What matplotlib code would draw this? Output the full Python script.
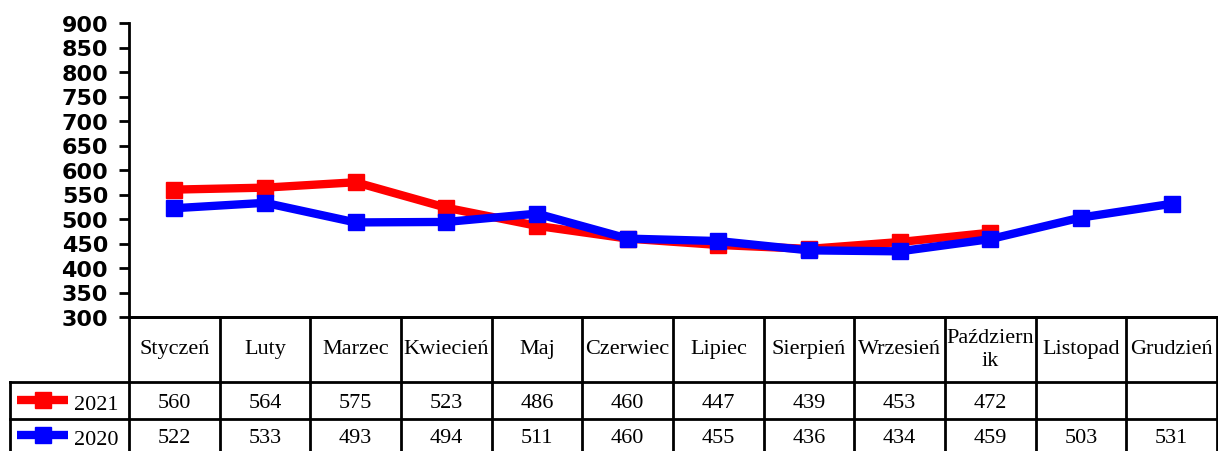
import numpy as np
import matplotlib.pyplot as plt

# Data
months = ['Styczeń', 'Luty', 'Marzec', 'Kwiecień', 'Maj', 'Czerwiec', 'Lipiec',
          'Sierpień', 'Wrzesień', 'Październ\nik', 'Listopad', 'Grudzień']
y2021 = [560, 564, 575, 523, 486, 460, 447, 439, 453, 472, None, None]
y2020 = [522, 533, 493, 494, 511, 460, 455, 436, 434, 459, 503, 531]
series = [('2021', y2021, '#ff0000'), ('2020', y2020, '#0000ff')]

W, H = 1218, 452
fig = plt.figure(figsize=(W / 100, H / 100), dpi=100)

# pixel layout
left, right, top, bottom = 129, 1217, 24, 318
ax = fig.add_axes([left / W, 1 - bottom / H, (right - left) / W, (bottom - top) / H])

x = np.arange(len(months))
for name, vals, col in series:
    v = np.array([np.nan if a is None else a for a in vals], dtype=float)
    ax.plot(x, v, color=col, lw=6, marker='s', ms=12, zorder=3 if name == '2020' else 2)

ax.set_xlim(-0.5, len(months) - 0.5)
ax.set_ylim(300, 900)
ax.set_yticks(np.arange(300, 901, 50))
ax.set_xticks([])
for s in ['top', 'right']:
    ax.spines[s].set_visible(False)
ax.spines['left'].set_linewidth(2)
ax.spines['bottom'].set_linewidth(2)
ax.tick_params(axis='y', length=7, width=2, direction='out', pad=8)
for lab in ax.get_yticklabels():
    lab.set_fontsize(16)
    lab.set_fontweight('bold')

# Data table drawn in pixel coordinates on an overlay axes
tab = fig.add_axes([0, 0, 1, 1])
tab.set_xlim(0, W)
tab.set_ylim(H, 0)
tab.axis('off')
tab.patch.set_alpha(0)

colw = (right - left) / len(months)
row_y = [bottom, 383, 420, 460]
lw = 2
tab.plot([left, right], [row_y[0]] * 2, color='black', lw=lw)
for yy in row_y[1:3]:
    tab.plot([10, right], [yy, yy], color='black', lw=lw)
for i in range(len(months) + 1):
    xx = left + i * colw
    tab.plot([xx, xx], [row_y[0], H], color='black', lw=lw)
tab.plot([10, 10], [row_y[1], H], color='black', lw=lw)

txt = dict(family='Liberation Serif', fontsize=16, ha='center', va='center')
row_cy = [404, 439]
for i, m in enumerate(months):
    cx = left + (i + 0.5) * colw
    tab.text(cx, 350, m, linespacing=1.25, **txt)
    for r, (name, vals, col) in enumerate(series):
        if vals[i] is not None:
            tab.text(cx, row_cy[r], str(vals[i]), **txt)

for r, (name, vals, col) in enumerate(series):
    cy = row_cy[r] - 3
    tab.plot([17, 68], [cy, cy], color=col, lw=6, solid_capstyle='butt')
    tab.plot([42.5], [cy], color=col, marker='s', ms=12)
    tab.text(74, row_cy[r] + 2, name, family='Liberation Serif', fontsize=16,
             ha='left', va='center')

fig.savefig('out.png', dpi=100)
